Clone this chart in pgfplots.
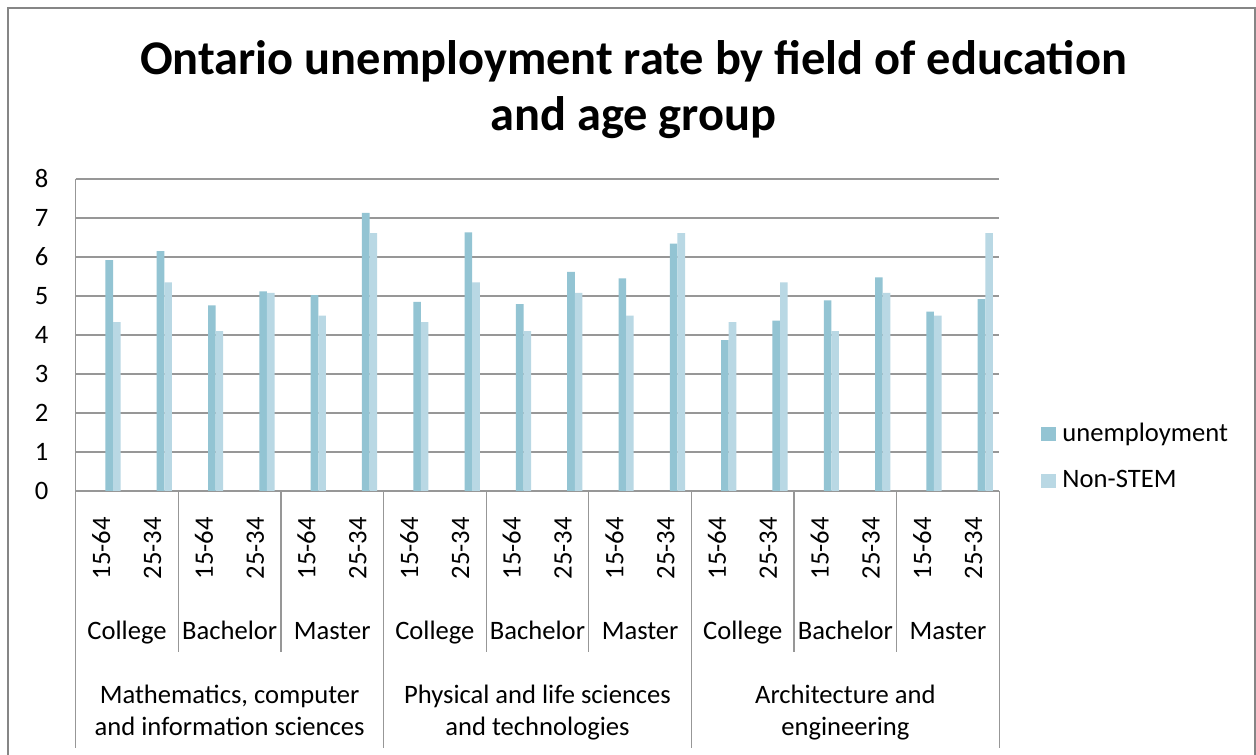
\documentclass[border=0pt]{standalone}
\usepackage{fontspec}
\setmainfont{Carlito}
\usepackage{pgfplots}
\pgfplotsset{compat=1.18}
\definecolor{unemp}{HTML}{93C4D3}
\definecolor{nonstem}{HTML}{B9D8E4}
\definecolor{gridc}{HTML}{979797}
\definecolor{framec}{HTML}{868686}
\pgfplotsset{sqlegend/.style={legend image code/.code={\fill[##1] (0pt,-3.5pt) rectangle (7.5pt,3.5pt);}}}
\begin{document}
\begin{tikzpicture}
\useasboundingbox (0,0) rectangle (628pt,377pt);
\fill[white] (0,0) rectangle (628pt,377pt);
\draw[framec, line width=1pt] (3.75pt,-5pt) -- (3.75pt,373pt) -- (627.25pt,373pt) -- (627.25pt,-5pt);
\node[font=\bfseries\fontsize{24.2}{28}\selectfont, align=center] at (316.75pt,332pt) {Ontario unemployment rate by field of education\\and age group};
\begin{axis}[
  at={(37.85pt,131.5pt)}, anchor=south west,
  width=461.8pt, height=156pt, scale only axis,
  xmin=-0.5, xmax=17.5, ymin=0, ymax=8,
  ytick={0,1,...,8},
  xtick={0,...,17},
  xticklabels={15-64,25-34,15-64,25-34,15-64,25-34,15-64,25-34,15-64,25-34,15-64,25-34,15-64,25-34,15-64,25-34,15-64,25-34},
  axis x line*=bottom, axis y line*=left,
  axis line style={gridc, line width=0.75pt, -},
  ymajorgrids, grid style={gridc, line width=0.75pt},
  major tick length=0pt,
  tick style={draw=none},
  ybar, bar width=0.148,
  clip=false,
  /pgf/number format/assume math mode=true,
  ticklabel style={font=\fontsize{13.3}{15}\selectfont},
  yticklabel style={inner sep=0pt, xshift=-13.5pt},
  xticklabel style={rotate=90, anchor=east, inner sep=0pt},
  xticklabel shift=13pt,
  legend style={at={(rel axis cs:1.0452,0.1090)}, anchor=west, draw=none, fill=none,
    font=\fontsize{13.3}{15}\selectfont, inner sep=0pt, row sep=13pt, column sep=3pt,
    nodes={inner sep=0pt}},
  legend cell align=left,
]
\addplot[fill=unemp, draw=none, bar shift=0.153, sqlegend]
  coordinates {(0,5.92) (1,6.15) (2,4.76) (3,5.12) (4,5.02) (5,7.13)
               (6,4.85) (7,6.63) (8,4.79) (9,5.62) (10,5.45) (11,6.34)
               (12,3.87) (13,4.37) (14,4.89) (15,5.48) (16,4.60) (17,4.92)};
\addlegendentry{unemployment}
\addplot[fill=nonstem, draw=none, bar shift=0.301, sqlegend]
  coordinates {(0,4.33) (1,5.35) (2,4.10) (3,5.08) (4,4.50) (5,6.61)
               (6,4.33) (7,5.35) (8,4.10) (9,5.08) (10,4.50) (11,6.61)
               (12,4.33) (13,5.35) (14,4.10) (15,5.08) (16,4.50) (17,6.61)};
\addlegendentry{Non-STEM}
\pgfplotsinvokeforeach{1.5,3.5,7.5,9.5,13.5,15.5}{
  \draw[gridc, line width=0.6pt] (axis cs:#1,0) -- ++(0pt,-80.5pt);
}
\pgfplotsinvokeforeach{-0.5,5.5,11.5,17.5}{
  \draw[gridc, line width=0.6pt] (axis cs:#1,0) -- ++(0pt,-128.5pt);
}
\pgfplotsinvokeforeach{0.5,6.5,12.5}{
  \node[font=\fontsize{13.3}{15}\selectfont, anchor=base, inner sep=0pt] at (axis cs:#1,0) [yshift=-74pt] {College};
}
\pgfplotsinvokeforeach{2.5,8.5,14.5}{
  \node[font=\fontsize{13.3}{15}\selectfont, anchor=base, inner sep=0pt] at (axis cs:#1,0) [yshift=-74pt] {Bachelor};
}
\pgfplotsinvokeforeach{4.5,10.5,16.5}{
  \node[font=\fontsize{13.3}{15}\selectfont, anchor=base, inner sep=0pt] at (axis cs:#1,0) [yshift=-74pt] {Master};
}
\node[font=\fontsize{13.3}{15}\selectfont, anchor=base, inner sep=0pt] at (axis cs:2.5,0) [yshift=-106pt] {Mathematics, computer};
\node[font=\fontsize{13.3}{15}\selectfont, anchor=base, inner sep=0pt] at (axis cs:2.5,0) [yshift=-122pt] {and information sciences};
\node[font=\fontsize{13.3}{15}\selectfont, anchor=base, inner sep=0pt] at (axis cs:8.5,0) [yshift=-106pt] {Physical and life sciences};
\node[font=\fontsize{13.3}{15}\selectfont, anchor=base, inner sep=0pt] at (axis cs:8.5,0) [yshift=-122pt] {and technologies};
\node[font=\fontsize{13.3}{15}\selectfont, anchor=base, inner sep=0pt] at (axis cs:14.5,0) [yshift=-106pt] {Architecture and};
\node[font=\fontsize{13.3}{15}\selectfont, anchor=base, inner sep=0pt] at (axis cs:14.5,0) [yshift=-122pt] {engineering};
\end{axis}
\end{tikzpicture}
\end{document}
